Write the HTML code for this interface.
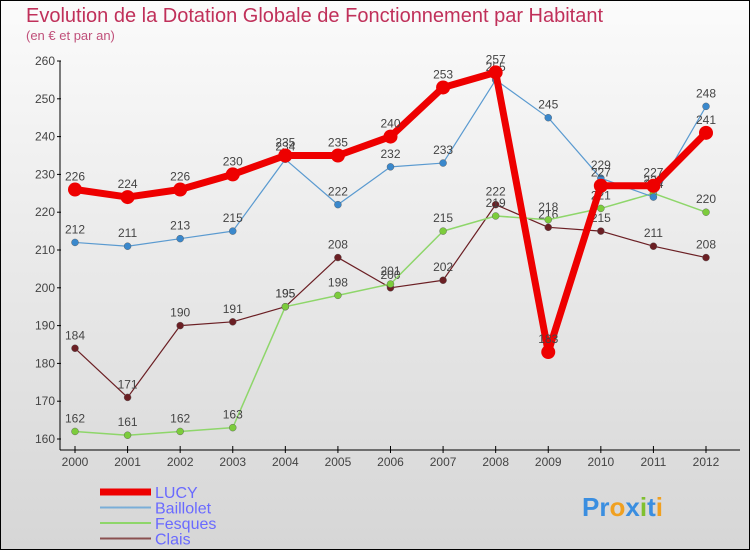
<!DOCTYPE html>
<html><head><meta charset="utf-8"><style>
body{margin:0;}
svg{display:block;font-family:"Liberation Sans",sans-serif;}
</style></head><body>
<svg id="c" width="750" height="550" viewBox="0 0 750 550">
<defs><linearGradient id="bg" x1="0" y1="0" x2="0" y2="1"><stop offset="0" stop-color="#fbfbfb"/><stop offset="1" stop-color="#d6d6d6"/></linearGradient></defs>
<rect x="0.5" y="0.5" width="749" height="549" fill="url(#bg)" stroke="#000"/>
<text x="26" y="22" font-size="20" fill="#c0305a">Evolution de la Dotation Globale de Fonctionnement par Habitant</text>
<text x="26" y="40" font-size="13" fill="#c0507a">(en € et par an)</text>
<g id="axes"></g><g id="series"></g><g id="legend"></g>
<text x="582" y="516" font-size="26" font-weight="bold"><tspan fill="#3a8ee0">Pr</tspan><tspan fill="#f0a020">o</tspan><tspan fill="#3a8ee0">x</tspan><tspan fill="#80c030">i</tspan><tspan fill="#3a8ee0">t</tspan><tspan fill="#f0a020">i</tspan></text>
</svg>
<script>
const years=["2000","2001","2002","2003","2004","2005","2006","2007","2008","2009","2010","2011","2012"];
const yTicks=[160,170,180,190,200,210,220,230,240,250,260];
const lucy=[226,224,226,230,235,235,240,253,257,183,227,227,241];
const baillolet=[212,211,213,215,234,222,232,233,255,245,229,224,248];
const fesques=[162,161,162,163,195,198,201,215,219,218,221,225,220];
const clais=[184,171,190,191,195,208,200,202,222,216,215,211,208];
const NS="http://www.w3.org/2000/svg";
const X=i=>75+i*(706-75)/12;
const Y=v=>439-(v-160)*(439-61)/100;
function mk(t,a,p){const e=document.createElementNS(NS,t);for(const k in a)e.setAttribute(k,a[k]);p.appendChild(e);return e;}
const ax=document.getElementById('axes');
let l=mk('line',{x1:60,y1:61,x2:60,y2:450,stroke:'#000'},ax);


l=mk('line',{x1:60,y1:450,x2:740,y2:450,stroke:'#000'},ax);


yTicks.forEach(v=>{
 mk('line',{x1:57,y1:Y(v),x2:61,y2:Y(v),stroke:'#000'},ax);
 const t=mk('text',{x:55,y:Y(v)+4,'font-size':12,fill:'#444','text-anchor':'end'},ax);t.textContent=v;
 
 
});
years.forEach((y,i)=>{
 mk('line',{x1:X(i),y1:446,x2:X(i),y2:453,stroke:'#000'},ax);
 const t=mk('text',{x:X(i),y:466,'font-size':12,fill:'#444','text-anchor':'middle'},ax);t.textContent=y;
 
 
});
const sg=document.getElementById('series');
const series=[
 {name:'clais',d:clais,c:'#6b1f24',w:1.2,r:3.5,fc:'#6b1f24'},
 {name:'fesques',d:fesques,c:'#8ed66a',w:1.5,r:3.5,fc:'#7ccc3c'},
 {name:'baillolet',d:baillolet,c:'#5a9ad0',w:1.2,r:3.5,fc:'#3a88cc'},
 {name:'lucy',d:lucy,c:'#ee0000',w:7,r:7,fc:'#ee0000'}
];
series.forEach(s=>{
 const g=mk('g',{},sg);
 
 
 const p=mk('polyline',{points:s.d.map((v,i)=>X(i)+','+Y(v)).join(' '),fill:'none',stroke:s.c,'stroke-width':s.w,'stroke-linejoin':'round'},g);
 
 
 s.d.forEach((v,i)=>{
  const c=mk('circle',{cx:X(i),cy:Y(v),r:s.r,fill:s.fc,stroke:s.name==='lucy'?'none':'#555','stroke-width':0.4},g);
  
  
  const t=mk('text',{x:X(i),y:Y(v)-9,'font-size':12,fill:'#444','text-anchor':'middle'},g);t.textContent=v;
  
  
 });
});
const lg=document.getElementById('legend');
const leg=[['LUCY','#ee0000',7],['Baillolet','#7aaed8',2],['Fesques','#8ed66a',2],['Clais','#8a5050',2]];
leg.forEach((e,i)=>{
 const y=492+i*15.5;
 const g=mk('g',{},lg);
 
 
 mk('line',{x1:100,y1:y,x2:151,y2:y,stroke:e[1],'stroke-width':e[2]},g);
 const t=mk('text',{x:155,y:y+6,'font-size':16,fill:'#6a6aff'},g);t.textContent=e[0];
});
</script>
</body></html>
